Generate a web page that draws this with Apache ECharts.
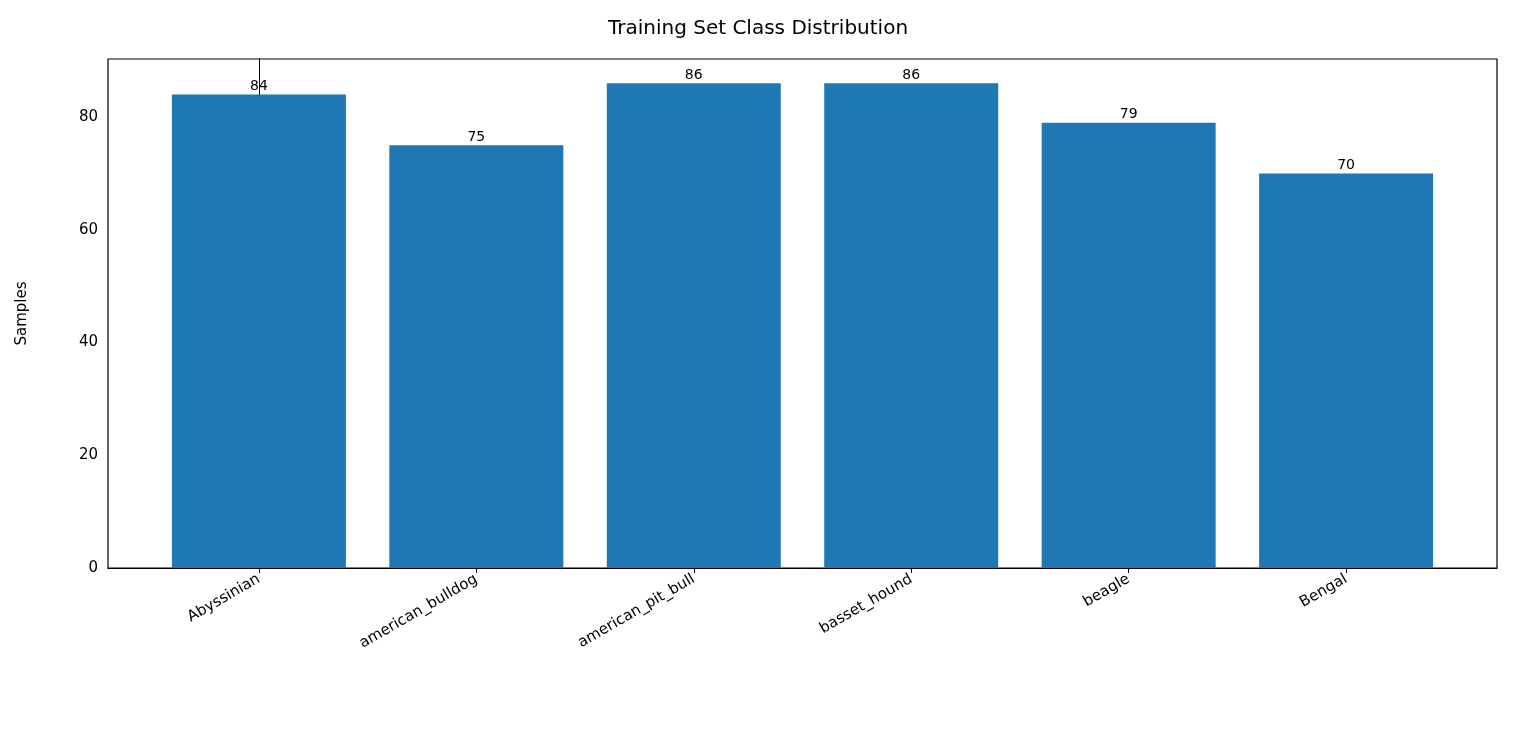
<!DOCTYPE html>
<html>
<head>
<meta charset="utf-8">
<script src="https://cdn.jsdelivr.net/npm/echarts@6/dist/echarts.min.js"></script>
<style>html,body{margin:0;padding:0;background:#fff}#chart{width:1516px;height:747px}</style>
</head>
<body>
<div id="chart"></div>
<script>
const categories = ['Abyssinian', 'american_bulldog', 'american_pit_bull', 'basset_hound', 'beagle', 'Bengal'];
const samples = [84, 75, 86, 86, 79, 70];
const yTicks = [0, 20, 40, 60, 80];

const chart = echarts.init(document.getElementById('chart'));
const font = 'DejaVu Sans';
const idx = categories.map((c, i) => i);

const option = {
    animation: false,
    textStyle: { fontFamily: font },
    title: {
        text: 'Training Set Class Distribution',
        left: 'center', top: 14,
        textStyle: { fontFamily: font, fontSize: 20, fontWeight: 'normal', color: '#000' }
    },
    grid: { left: 108, right: 19, top: 59, bottom: 179, show: true, borderColor: '#000', borderWidth: 1.2 },
    xAxis: {
        type: 'value', min: -0.694, max: 5.694,
        splitLine: { show: false },
        axisLine: { show: true, onZero: false, lineStyle: { color: '#000' } },
        axisTick: { show: true, customValues: idx, length: 5, lineStyle: { color: '#000' } },
        axisLabel: {
            customValues: idx, rotate: 30, fontSize: 15, color: '#000', margin: 10,
            formatter: v => categories[Math.round(v)]
        }
    },
    yAxis: {
        type: 'value', min: 0, max: 90.3,
        name: 'Samples', nameLocation: 'middle', nameGap: 78,
        nameTextStyle: { fontSize: 15, color: '#000' },
        splitLine: { show: false },
        axisLine: { show: true, lineStyle: { color: '#000' } },
        axisTick: { show: true, customValues: yTicks, length: 5, lineStyle: { color: '#000' } },
        axisLabel: { customValues: yTicks, fontSize: 15, color: '#000', margin: 10 }
    },
    series: [{
        type: 'bar',
        data: samples.map((v, i) => [i, v]),
        barWidth: 174,
        itemStyle: { color: '#1f77b4' },
        label: { show: true, position: 'top', distance: 1, fontSize: 14, color: '#000', formatter: p => p.value[1] }
    }]
};
chart.setOption(option);
</script>
</body>
</html>
